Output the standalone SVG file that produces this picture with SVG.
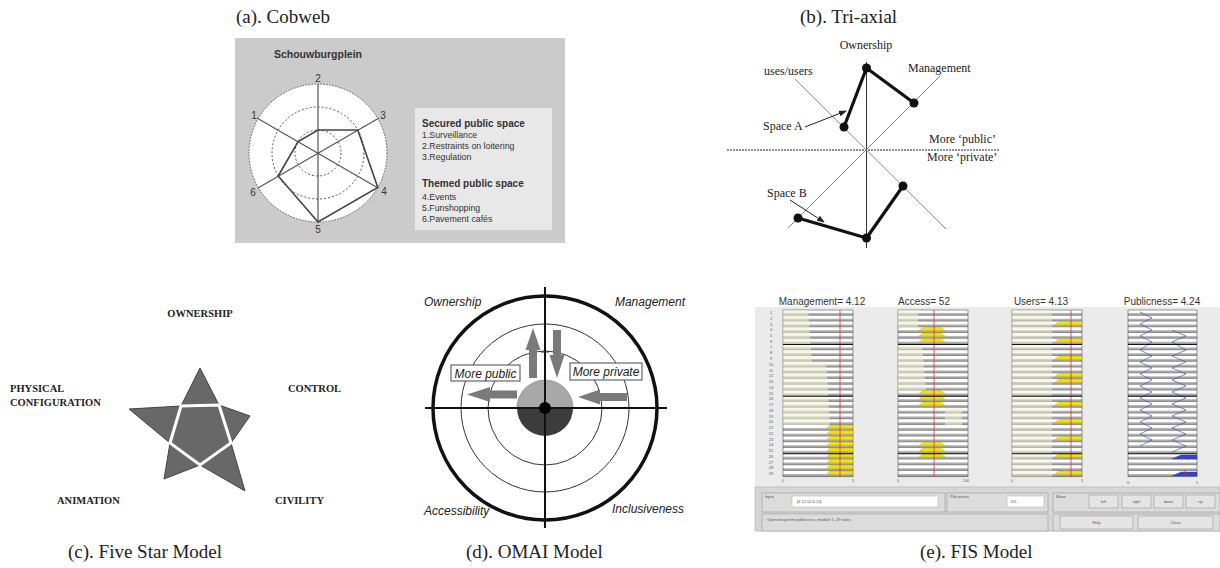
<svg xmlns="http://www.w3.org/2000/svg" width="1220" height="568" viewBox="0 0 1220 568">
<style>
.cap{font-family:"Liberation Serif",serif;font-size:19px;fill:#222}
.cw{font-family:"Liberation Sans",Arial,sans-serif;fill:#333}
.tri{font-family:"Liberation Serif",serif;font-size:12px;fill:#222}
.star{font-family:"Liberation Serif",serif;font-size:10.5px;font-weight:bold;fill:#222}
.om{font-family:"Liberation Sans",Arial,sans-serif;font-style:italic;font-size:12px;fill:#222}
.fis{font-family:"Liberation Sans",Arial,sans-serif;fill:#333}
.tiny{font-family:"Liberation Sans",Arial,sans-serif;font-size:4px;fill:#555}
.ax{stroke:#888;stroke-width:1;fill:none}
.prof{stroke:#111;stroke-width:3.2;fill:none;stroke-linejoin:round}
.dot{fill:#111}
.arr{fill:#7a7a7a}
.col{fill:url(#stripes);stroke:#555;stroke-width:0.6}
.blk{stroke:#111;stroke-width:1}
.red{stroke:#e03030;stroke-width:0.8}
.btn{fill:#e4e4e4;stroke:#999;stroke-width:0.6}
.box{fill:#dcdcdc;stroke:#9a9a9a;stroke-width:0.6}
</style>
<defs>
<pattern id="stripes" patternUnits="userSpaceOnUse" x="0" y="310" width="10" height="5.75">
<rect x="0" y="0" width="10" height="3.2" fill="#ffffff"/>
<rect x="0" y="3.2" width="10" height="2.55" fill="#a3a3a3"/>
<rect x="0" y="5.25" width="10" height="0.5" fill="#777"/>
</pattern>
<marker id="ah" markerWidth="8" markerHeight="6" refX="7" refY="3" orient="auto" markerUnits="userSpaceOnUse">
<path d="M0,0 L8,3 L0,6 Z" fill="#222"/>
</marker>
<polygon id="y1" points="3,0 26,0 26,3.2 0,3.2" fill="#f5e400" stroke="#b5a600" stroke-width="0.4"/>
<polygon id="y2" points="-9,0 9,0 13,3.2 -13,3.2" fill="#f5e400" stroke="#b5a600" stroke-width="0.4"/>
<polygon id="y3" points="4,0 27,0 27,3.2 0,3.2" fill="#f5e400" stroke="#b5a600" stroke-width="0.4"/>
<polygon id="b4" points="9,0 25,0 25,4 0,4" fill="#3344cc" stroke="#223399" stroke-width="0.4"/>
</defs>

<rect width="1220" height="568" fill="#ffffff"/>

<!-- captions -->
<g id="captions">
<text class="cap" x="236" y="23">(a). Cobweb</text>
<text class="cap" x="800" y="23">(b). Tri-axial</text>
<text class="cap" x="68" y="558">(c). Five Star Model</text>
<text class="cap" x="466" y="558">(d). OMAI Model</text>
<text class="cap" x="920" y="558">(e). FIS Model</text>
</g>

<!-- (a) Cobweb -->
<g id="cobweb">
<rect x="235" y="38" width="330" height="205" fill="#cbcbcb"/>
<text class="cw" x="318" y="58" font-size="10.5" font-weight="bold" text-anchor="middle">Schouwburgplein</text>
<circle cx="318" cy="153" r="69" fill="#ffffff" stroke="#555" stroke-width="1" stroke-dasharray="1.5,1.5"/>
<circle cx="318" cy="153" r="46" fill="none" stroke="#555" stroke-width="1" stroke-dasharray="2,2"/>
<circle cx="318" cy="153" r="23" fill="none" stroke="#555" stroke-width="1" stroke-dasharray="2,2"/>
<g stroke="#555" stroke-width="1.2">
<line x1="318" y1="84" x2="318" y2="222"/>
<line x1="257" y1="118" x2="378" y2="188"/>
<line x1="379" y1="118" x2="258" y2="188"/>
</g>
<polygon points="318,130 357.8,130 377.8,187.5 318,222 278.2,176 298.1,141.5" fill="none" stroke="#444" stroke-width="1.6"/>
<g class="cw" font-size="10">
<text x="318" y="82" text-anchor="middle">2</text>
<text x="383" y="119" text-anchor="middle">3</text>
<text x="254" y="119" text-anchor="middle">1</text>
<text x="384" y="195" text-anchor="middle">4</text>
<text x="253" y="196" text-anchor="middle">6</text>
<text x="318" y="233" text-anchor="middle">5</text>
</g>
<g id="cobweb-legend">
<rect x="415" y="108" width="137" height="122" fill="#e8e8e8"/>
<text class="cw" x="422" y="127" font-size="10" font-weight="bold" fill="#111">Secured public space</text>
<text class="cw" x="422" y="138" font-size="8.8">1.Surveillance</text>
<text class="cw" x="422" y="149" font-size="8.8">2.Restraints on loitering</text>
<text class="cw" x="422" y="160" font-size="8.8">3.Regulation</text>
<text class="cw" x="422" y="187" font-size="10" font-weight="bold" fill="#111">Themed public space</text>
<text class="cw" x="422" y="200" font-size="8.8">4.Events</text>
<text class="cw" x="422" y="211" font-size="8.8">5.Funshopping</text>
<text class="cw" x="422" y="222" font-size="8.8">6.Pavement cafés</text>
</g>
</g>

<!-- (b) Tri-axial -->
<g id="triaxial">
<line x1="727" y1="150" x2="1000" y2="150" stroke="#222" stroke-width="1" stroke-dasharray="2,1"/>
<line x1="866.5" y1="62" x2="866.5" y2="248" stroke="#333" stroke-width="1"/>
<line class="ax" x1="795" y1="79" x2="946" y2="229"/>
<line class="ax" x1="940" y1="76" x2="788" y2="228"/>
<g id="spaceA">
<polyline class="prof" points="844,127 866.5,68 914,103"/>
<circle class="dot" cx="844" cy="127" r="4.5"/>
<circle class="dot" cx="866.5" cy="68" r="4.5"/>
<circle class="dot" cx="914" cy="103" r="4.5"/>
</g>
<g id="spaceB">
<polyline class="prof" points="798,218 866.5,238 903,186"/>
<circle class="dot" cx="798" cy="218" r="4.5"/>
<circle class="dot" cx="866.5" cy="238" r="4.5"/>
<circle class="dot" cx="903" cy="186" r="4.5"/>
</g>
<g id="tri-connectors" stroke="#222" stroke-width="1">
<line x1="805" y1="127" x2="846" y2="111" marker-end="url(#ah)"/>
<line x1="790" y1="200" x2="824" y2="222" marker-end="url(#ah)"/>
</g>
<text class="tri" x="866" y="49" text-anchor="middle">Ownership</text>
<text class="tri" x="908" y="72">Management</text>
<text class="tri" x="764" y="75">uses/users</text>
<text class="tri" x="763" y="130">Space A</text>
<text class="tri" x="767" y="197">Space B</text>
<text class="tri" x="929" y="143">More ‘public’</text>
<text class="tri" x="927" y="161">More ‘private’</text>
</g>

<!-- (c) Five Star -->
<g id="fivestar">
<polygon points="200,368 219,405 250,416 231,443 245,491 200,465 164,479 170,443 129,409 181,406" fill="#686868" stroke="#444" stroke-width="1" stroke-linejoin="round"/>
<polygon points="181,406 219,405 231,443 200,465 170,443" fill="none" stroke="#ffffff" stroke-width="3"/>
<text class="star" x="200" y="317" text-anchor="middle">OWNERSHIP</text>
<text class="star" x="10" y="392">PHYSICAL</text>
<text class="star" x="10" y="406">CONFIGURATION</text>
<text class="star" x="288" y="392">CONTROL</text>
<text class="star" x="57" y="504">ANIMATION</text>
<text class="star" x="275" y="504">CIVILITY</text>
</g>

<!-- (d) OMAI -->
<g id="omai">
<circle cx="545" cy="408" r="84" fill="none" stroke="#333" stroke-width="1"/>
<circle cx="545" cy="408" r="57" fill="none" stroke="#333" stroke-width="1"/>
<circle cx="545" cy="408" r="112" fill="none" stroke="#111" stroke-width="3.5"/>
<path d="M517,408 A28,28 0 0 1 573,408 Z" fill="#a8a8a8" stroke="#777" stroke-width="0.6"/>
<path d="M517,408 A28,28 0 0 0 573,408 Z" fill="#3c3c3c"/>
<line x1="425" y1="408" x2="667" y2="408" stroke="#111" stroke-width="2"/>
<line x1="545" y1="287" x2="545" y2="528" stroke="#111" stroke-width="2"/>
<line x1="541" y1="352" x2="549" y2="352" stroke="#333" stroke-width="1"/>
<circle cx="545" cy="408" r="6" fill="#000"/>
<g id="omai-arrows">
<polygon class="arr" points="529,378 529,350 525.5,350 533,328 540.5,350 537,350 537,378"/>
<polygon class="arr" points="553,330 561,330 561,355 564.5,355 557,378 549.5,355 553,355"/>
<polygon class="arr" points="517,390.5 490,390.5 490,387 467,394.5 490,402 490,398.5 517,398.5"/>
<polygon class="arr" points="627,393 600,393 600,389.5 578,397 600,404.5 600,401 627,401"/>
</g>
<g id="more-public">
<rect x="451" y="365" width="69" height="16" fill="#fff" stroke="#666" stroke-width="1.2"/>
<text class="om" x="485.5" y="377.5" text-anchor="middle" font-size="11.5">More public</text>
</g>
<g id="more-private">
<rect x="570" y="363" width="72" height="17" fill="#fff" stroke="#666" stroke-width="1.2"/>
<text class="om" x="606" y="376" text-anchor="middle" font-size="11.5">More private</text>
</g>
<text class="om" x="424" y="306">Ownership</text>
<text class="om" x="685" y="306" text-anchor="end">Management</text>
<text class="om" x="424" y="515">Accessibility</text>
<text class="om" x="684" y="513" text-anchor="end">Inclusiveness</text>
</g>

<!-- (e) FIS -->
<g id="fis">
<rect x="755" y="307" width="465" height="180" fill="#ebebeb"/>
<text class="fis" x="822" y="305" font-size="10" text-anchor="middle">Management= 4.12</text>
<text class="fis" x="924" y="305" font-size="10" text-anchor="middle">Access= 52</text>
<text class="fis" x="1041" y="305" font-size="10" text-anchor="middle">Users= 4.13</text>
<text class="fis" x="1162" y="305" font-size="10" text-anchor="middle">Publicness= 4.24</text>

<g id="fis-col1">
<rect class="col" x="783" y="310" width="70" height="166.75"/>
<polygon points="783,310 808,310 812,361.75 826,361.75 830,425 783,425" fill="#f3efd4" opacity="0.55"/>
<use href="#y1" x="827" y="425"/><use href="#y1" x="827" y="430.75"/><use href="#y1" x="827" y="436.5"/>
<use href="#y1" x="827" y="442.25"/><use href="#y1" x="827" y="448"/><use href="#y1" x="827" y="453.75"/>
<use href="#y1" x="827" y="459.5"/><use href="#y1" x="827" y="465.25"/><use href="#y1" x="827" y="471"/>
<line class="red" x1="840" y1="310" x2="840" y2="477"/>
</g>
<g id="fis-col2">
<rect class="col" x="898" y="310" width="70" height="166.75"/>
<polygon points="898,310 918,310 918,327.25 898,327.25" fill="#f3efd4" opacity="0.55"/>
<polygon points="898,344.5 922,344.5 926,390.5 898,390.5" fill="#f3efd4" opacity="0.55"/>
<polygon points="945,408 962,408 962,425 945,425" fill="#f3efd4" opacity="0.55"/>
<use href="#y2" x="932" y="327.25"/><use href="#y2" x="932" y="333"/><use href="#y2" x="932" y="338.75"/>
<use href="#y2" x="932" y="390.5"/><use href="#y2" x="932" y="396.25"/><use href="#y2" x="932" y="402"/>
<use href="#y2" x="932" y="442.25"/><use href="#y2" x="932" y="448"/><use href="#y2" x="932" y="453.75"/>
<line class="red" x1="934" y1="310" x2="934" y2="477"/>
</g>
<g id="fis-col3">
<rect class="col" x="1012" y="310" width="70" height="166.75"/>
<polygon points="1012,310 1052,310 1052,476.75 1012,476.75" fill="#f3efd4" opacity="0.45"/>
<use href="#y3" x="1055" y="321.5"/><use href="#y3" x="1055" y="338.75"/><use href="#y3" x="1055" y="356"/>
<use href="#y3" x="1055" y="373.25"/><use href="#y3" x="1055" y="379"/><use href="#y3" x="1055" y="402"/>
<use href="#y3" x="1055" y="419.25"/><use href="#y3" x="1055" y="436.5"/><use href="#y3" x="1055" y="453.75"/>
<use href="#y3" x="1055" y="471"/>
<line class="red" x1="1071" y1="310" x2="1071" y2="477"/>
</g>
<g id="fis-col4">
<rect class="col" x="1128" y="310" width="69" height="166.75"/>
<polyline points="1140,312 1152,318 1140,324 1152,330 1140,336 1152,342 1140,350 1152,356 1140,362 1152,368 1140,374 1152,380 1140,386 1152,392 1140,398 1152,404 1140,410 1152,416 1140,422 1152,428 1140,434 1152,440 1140,446" fill="none" stroke="#4a55b0" stroke-width="0.7"/>
<polyline points="1172,330 1186,336 1172,342 1186,350 1172,356 1186,362 1172,368 1186,374 1172,380 1186,386 1172,392 1186,398 1172,404 1186,410 1172,416 1186,422 1172,428 1186,434 1172,440 1186,446 1172,452" fill="none" stroke="#4a55b0" stroke-width="0.7"/>
<use href="#b4" x="1172" y="455"/><use href="#b4" x="1172" y="472"/>
<line class="red" x1="1185" y1="470" x2="1185" y2="477"/>
</g>
<g id="fis-blacklines">
<line class="blk" x1="783" y1="344.5" x2="853" y2="344.5"/><line class="blk" x1="783" y1="396.25" x2="853" y2="396.25"/><line class="blk" x1="783" y1="453.75" x2="853" y2="453.75"/>
<line class="blk" x1="898" y1="344.5" x2="968" y2="344.5"/><line class="blk" x1="898" y1="396.25" x2="968" y2="396.25"/><line class="blk" x1="898" y1="453.75" x2="968" y2="453.75"/>
<line class="blk" x1="1012" y1="344.5" x2="1082" y2="344.5"/><line class="blk" x1="1012" y1="396.25" x2="1082" y2="396.25"/><line class="blk" x1="1012" y1="453.75" x2="1082" y2="453.75"/>
<line class="blk" x1="1128" y1="344.5" x2="1197" y2="344.5"/><line class="blk" x1="1128" y1="396.25" x2="1197" y2="396.25"/><line class="blk" x1="1128" y1="453.75" x2="1197" y2="453.75"/>
</g>
<g id="fis-rownums" class="tiny" text-anchor="middle">
<text x="771" y="314">1</text><text x="771" y="319.75">2</text><text x="771" y="325.5">3</text><text x="771" y="331.25">4</text><text x="771" y="337">5</text>
<text x="771" y="342.75">6</text><text x="771" y="348.5">7</text><text x="771" y="354.25">8</text><text x="771" y="360">9</text><text x="771" y="365.75">10</text>
<text x="771" y="371.5">11</text><text x="771" y="377.25">12</text><text x="771" y="383">13</text><text x="771" y="388.75">14</text><text x="771" y="394.5">15</text>
<text x="771" y="400.25">16</text><text x="771" y="406">17</text><text x="771" y="411.75">18</text><text x="771" y="417.5">19</text><text x="771" y="423.25">20</text>
<text x="771" y="429">21</text><text x="771" y="434.75">22</text><text x="771" y="440.5">23</text><text x="771" y="446.25">24</text><text x="771" y="452">25</text>
<text x="771" y="457.75">26</text><text x="771" y="463.5">27</text><text x="771" y="469.25">28</text><text x="771" y="475">29</text>
</g>
<g id="fis-axes" class="tiny" text-anchor="middle">
<text x="783" y="482">0</text><text x="853" y="482">5</text>
<text x="898" y="482">0</text><text x="966" y="482">100</text>
<text x="1012" y="482">0</text><text x="1082" y="482">5</text>
<text x="1128" y="484">0</text><text x="1197" y="484">1</text>
</g>
<g id="fis-controls">
<rect x="755" y="487" width="465" height="44" fill="#d6d6d6" stroke="#aaa" stroke-width="0.6"/>
<rect class="box" x="762" y="493" width="183" height="19"/>
<text class="tiny" x="765" y="498">Input</text>
<rect x="792" y="496" width="146" height="11" fill="#fff" stroke="#aaa" stroke-width="0.5"/>
<text class="tiny" x="797" y="503" font-size="4.5">[4.12;52;4.13]</text>
<rect class="box" x="947" y="493" width="101" height="19"/>
<text class="tiny" x="950" y="498">Plot points</text>
<rect x="1007" y="496" width="37" height="11" fill="#fff" stroke="#aaa" stroke-width="0.5"/>
<text class="tiny" x="1010" y="503" font-size="4.5">101</text>
<rect class="box" x="1053" y="493" width="167" height="19"/>
<text class="tiny" x="1056" y="498">Move</text>
<rect class="btn" x="1089" y="495" width="29" height="13"/><text class="tiny" x="1103.5" y="503" text-anchor="middle">left</text>
<rect class="btn" x="1122" y="495" width="29" height="13"/><text class="tiny" x="1136.5" y="503" text-anchor="middle">right</text>
<rect class="btn" x="1154" y="495" width="29" height="13"/><text class="tiny" x="1168.5" y="503" text-anchor="middle">down</text>
<rect class="btn" x="1186" y="495" width="29" height="13"/><text class="tiny" x="1200.5" y="503" text-anchor="middle">up</text>
<rect class="box" x="762" y="514" width="286" height="17"/>
<text class="tiny" x="767" y="521" font-size="4.5">Opened system publicness_module 1, 29 rules</text>
<rect class="box" x="1053" y="514" width="167" height="17"/>
<rect class="btn" x="1060" y="516" width="73" height="13"/><text class="tiny" x="1096.5" y="524" text-anchor="middle">Help</text>
<rect class="btn" x="1138" y="516" width="75" height="13"/><text class="tiny" x="1175.5" y="524" text-anchor="middle">Close</text>
</g>
</g>
</svg>
